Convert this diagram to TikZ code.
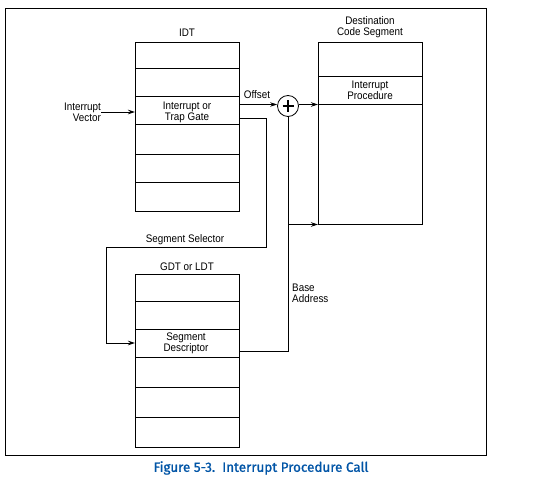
\documentclass[tikz,border=0pt]{standalone}
\usepackage{fontspec}
\setmainfont[FakeStretch=0.9]{Liberation Sans}
\newfontfamily\capfont[FakeBold=1.2]{Fira Sans}
\usetikzlibrary{arrows.meta}
\definecolor{capblue}{RGB}{0,84,166}
\begin{document}
\begin{tikzpicture}[x=1bp,y=-1bp,
  every node/.style={font=\fontsize{11}{11}\selectfont, inner sep=0pt, align=center},
  cell/.style={draw, line width=0.8bp, minimum width=104bp, anchor=north west, outer sep=0pt},
  conn/.style={line width=0.8bp},
  arr/.style={conn, -{Stealth[length=7bp,width=4.5bp]}},
  lbl/.style={font=\fontsize{11}{11}\selectfont}]
\useasboundingbox (0,0) rectangle (556,492);
\draw[line width=0.9bp] (5,8) rectangle (486,455);

% IDT
\node[lbl] (idtlbl) at (187,33) {IDT};
\node[cell, minimum height=26.5bp] (idt1) at (135,42) {};
\node[cell, minimum height=28bp] (idt2) at (idt1.south west) {};
\node[cell, minimum height=27.5bp] (idt3) at (idt2.south west) {};
\node[cell, minimum height=30.5bp] (idt4) at (idt3.south west) {};
\node[cell, minimum height=28bp] (idt5) at (idt4.south west) {};
\node[cell, minimum height=28.5bp] (idt6) at (idt5.south west) {};
\node[lbl] (gate) at (187,112.5) {Interrupt or\\Trap Gate};

% Destination
\node[lbl] (destlbl) at (370,27.5) {Destination\\Code Segment};
\node[cell, minimum height=34.5bp] (dst1) at (318,42) {};
\node[cell, minimum height=28bp] (dst2) at (dst1.south west) {};
\node[cell, minimum height=120bp] (dst3) at (dst2.south west) {};
\node[lbl] (proc) at (370,90) {Interrupt\\Procedure};

% GDT
\node[lbl] (gdtlbl) at (187,266.5) {GDT or LDT};
\node[cell, minimum height=27.3bp] (gdt1) at (135,274) {};
\node[cell, minimum height=28bp] (gdt2) at (gdt1.south west) {};
\node[cell, minimum height=28bp] (gdt3) at (gdt2.south west) {};
\node[cell, minimum height=30bp] (gdt4) at (gdt3.south west) {};
\node[cell, minimum height=30bp] (gdt5) at (gdt4.south west) {};
\node[cell, minimum height=29.7bp] (gdt6) at (gdt5.south west) {};
\node[lbl] (desc) at (186,343) {Segment\\Descriptor};

% adder
\node[draw, circle, line width=0.8bp, minimum size=21bp] (plus) at (288,106) {};
\draw[line width=1.5bp] ([xshift=-5.5bp]plus.center) -- ([xshift=5.5bp]plus.center)
  ([yshift=-6bp]plus.center) -- ([yshift=6bp]plus.center);

% labels
\node[lbl, align=right, anchor=east] (ivec) at (101,112) {Interrupt\\Vector};
\node[lbl] (offset) at (257,95) {Offset};
\node[lbl] (sellbl) at (185,239.5) {Segment Selector};
\node[lbl, align=left, anchor=west] (base) at (292,293.5) {Base\\Address};

% coordinates
\coordinate (gateout) at (239,118);
\coordinate (c1) at (266,118);
\coordinate (c2) at (266,247);
\coordinate (c3) at (106.5,247);
\coordinate (c4) at (106.5,343);
\coordinate (b1) at (288,351);
\coordinate (b2) at (288,224.5);

% connectors
\draw[arr] (ivec.east |- 0,112) -- (idt3.west |- 0,112);
\draw[arr] (idt3.east |- 0,104.5) -- (plus.west |- 0,104.5);
\draw[arr] (plus.east |- 0,104.5) -- (dst3.north west);
\draw[arr] (gateout) -- (c1) -- (c2) -- (c3) -- (c4) -- (gdt3.west |- c4);
\draw[conn] (plus.south) -- (b1) -- (gdt3.east |- b1);
\draw[arr] (b2) -- (dst3.south west);

% caption
\node[font=\capfont\fontsize{13.5}{16}\selectfont, text=capblue] (cap) at (261,468) {Figure 5-3.\ \ Interrupt Procedure Call};
\end{tikzpicture}
\end{document}
